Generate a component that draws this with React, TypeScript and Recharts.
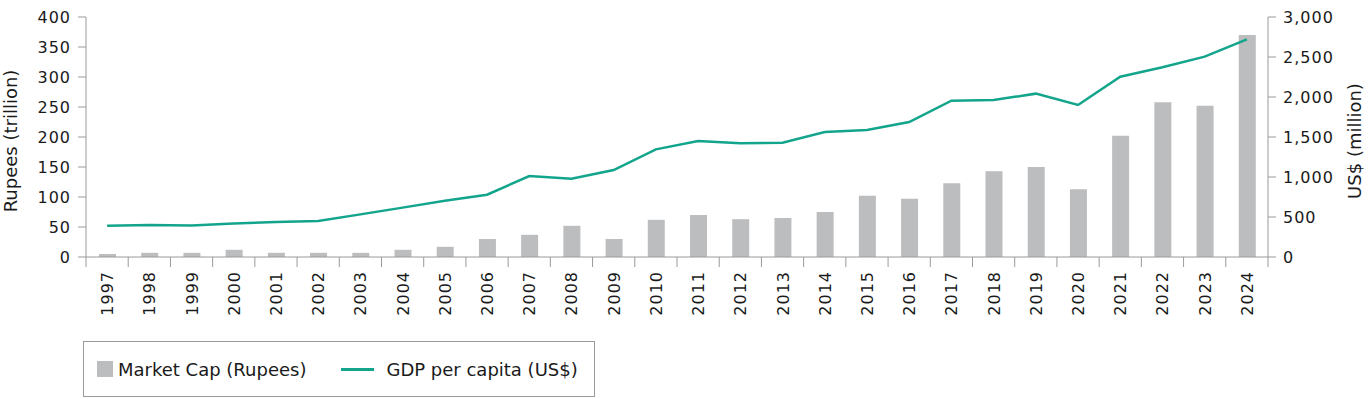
import React from "react";
import { ComposedChart, Bar, Line, XAxis, YAxis, Legend } from "recharts";

const years = [
  "1997", "1998", "1999", "2000", "2001", "2002", "2003", "2004", "2005", "2006",
  "2007", "2008", "2009", "2010", "2011", "2012", "2013", "2014", "2015", "2016",
  "2017", "2018", "2019", "2020", "2021", "2022", "2023", "2024",
];

// Market cap, Rupees trillion (left axis)
const marketCap = [
  5, 7, 7, 12, 7, 7, 7, 12, 17, 30,
  37, 52, 30, 62, 70, 63, 65, 75, 102, 97,
  123, 143, 150, 113, 202, 258, 252, 370,
];

// GDP per capita, US$ (right axis)
const gdpPerCapita = [
  390, 400, 395, 420, 437, 450, 533, 617, 704, 779,
  1012, 979, 1087, 1346, 1450, 1421, 1429, 1562, 1587, 1687,
  1954, 1962, 2042, 1900, 2254, 2371, 2504, 2721,
];

const leftTicks = [0, 50, 100, 150, 200, 250, 300, 350, 400];
const rightTicks = [0, 500, 1000, 1500, 2000, 2500, 3000];

const data = years.map((year, i) => ({
  year,
  cap: marketCap[i],
  gdp: gdpPerCapita[i],
}));

const FONT = "'DejaVu Sans', sans-serif";
const AXIS = "#9a9a9a";
const TEXT = "#1a1a1a";
const BAR = "#bcbdbf";
const TEAL = "#13a58c";

function YearTick(props: any) {
  const { x, y, payload, index, width } = props;
  const half = width / years.length / 2;
  return (
    <g>
      <line x1={x - half} y1={y} x2={x - half} y2={y + 10} stroke={AXIS} strokeWidth={1} />
      {index === years.length - 1 && (
        <line x1={x + half} y1={y} x2={x + half} y2={y + 10} stroke={AXIS} strokeWidth={1} />
      )}
      <text
        x={0}
        y={0}
        transform={`translate(${x + 6},${y + 14}) rotate(-90)`}
        textAnchor="end"
        fontFamily={FONT}
        fontSize={16}
        letterSpacing={1}
        fill={TEXT}
      >
        {payload.value}
      </text>
    </g>
  );
}

// rotated axis title, baseline placed near the outer edge of the axis area
function AxisTitle(props: any) {
  const { viewBox, value, side } = props;
  const bx = side === "left" ? viewBox.x + 17 : viewBox.x + viewBox.width - 11;
  const cy = viewBox.y + viewBox.height / 2 + 4;
  return (
    <text
      x={0}
      y={0}
      transform={`translate(${bx},${cy}) rotate(-90)`}
      textAnchor="middle"
      fontFamily={FONT}
      fontSize={18}
      fill={TEXT}
    >
      {value}
    </text>
  );
}

function LegendBox() {
  return (
    <div style={{ paddingTop: 14 }}>
      <div
        style={{
          boxSizing: "border-box",
          height: 56,
          width: 512,
          border: `1px solid ${AXIS}`,
          display: "flex",
          alignItems: "center",
          paddingLeft: 13,
          fontFamily: FONT,
          fontSize: 18,
          color: TEXT,
        }}
      >
        <span style={{ width: 16, height: 16, background: BAR, marginRight: 5 }} />
        <span>Market Cap (Rupees)</span>
        <span style={{ width: 33, height: 3, background: TEAL, marginLeft: 35, marginRight: 12 }} />
        <span>GDP per capita (US$)</span>
      </div>
    </div>
  );
}

const tickStyle = { fontFamily: FONT, fontSize: 16, fill: TEXT, letterSpacing: 1 };

export default function App() {
  return (
    <div style={{ position: "absolute", left: 0, top: 0 }}>
      <ComposedChart
        width={1372}
        height={399}
        data={data}
        margin={{ top: 17, right: 0, bottom: 2, left: 0 }}
      >
        <XAxis
          dataKey="year"
          xAxisId="x"
          height={70}
          interval={0}
          tickLine={false}
          tickSize={0}
          tickMargin={0}
          axisLine={{ stroke: AXIS }}
          tick={<YearTick />}
        />
        <YAxis
          yAxisId="left"
          width={86}
          domain={[0, 400]}
          ticks={leftTicks}
          interval={0}
          tickSize={8}
          tickMargin={7}
          axisLine={{ stroke: AXIS }}
          tickLine={{ stroke: AXIS }}
          tick={tickStyle}
          label={<AxisTitle value="Rupees (trillion)" side="left" />}
        />
        <YAxis
          yAxisId="right"
          orientation="right"
          width={104}
          domain={[0, 3000]}
          ticks={rightTicks}
          interval={0}
          tickSize={8}
          tickMargin={7}
          axisLine={{ stroke: AXIS }}
          tickLine={{ stroke: AXIS }}
          tickFormatter={(v: number) => v.toLocaleString("en-US")}
          tick={tickStyle}
          label={<AxisTitle value="US$ (million)" side="right" />}
        />
        <Legend
          verticalAlign="bottom"
          align="left"
          content={<LegendBox />}
          wrapperStyle={{ left: 83, width: "auto" }}
        />
        <Bar
          dataKey="cap"
          name="Market Cap (Rupees)"
          xAxisId="x"
          yAxisId="left"
          fill={BAR}
          barSize={17}
          isAnimationActive={false}
        />
        <Line
          dataKey="gdp"
          name="GDP per capita (US$)"
          xAxisId="x"
          yAxisId="right"
          type="linear"
          stroke={TEAL}
          strokeWidth={2.5}
          dot={false}
          activeDot={false}
          isAnimationActive={false}
        />
      </ComposedChart>
    </div>
  );
}
